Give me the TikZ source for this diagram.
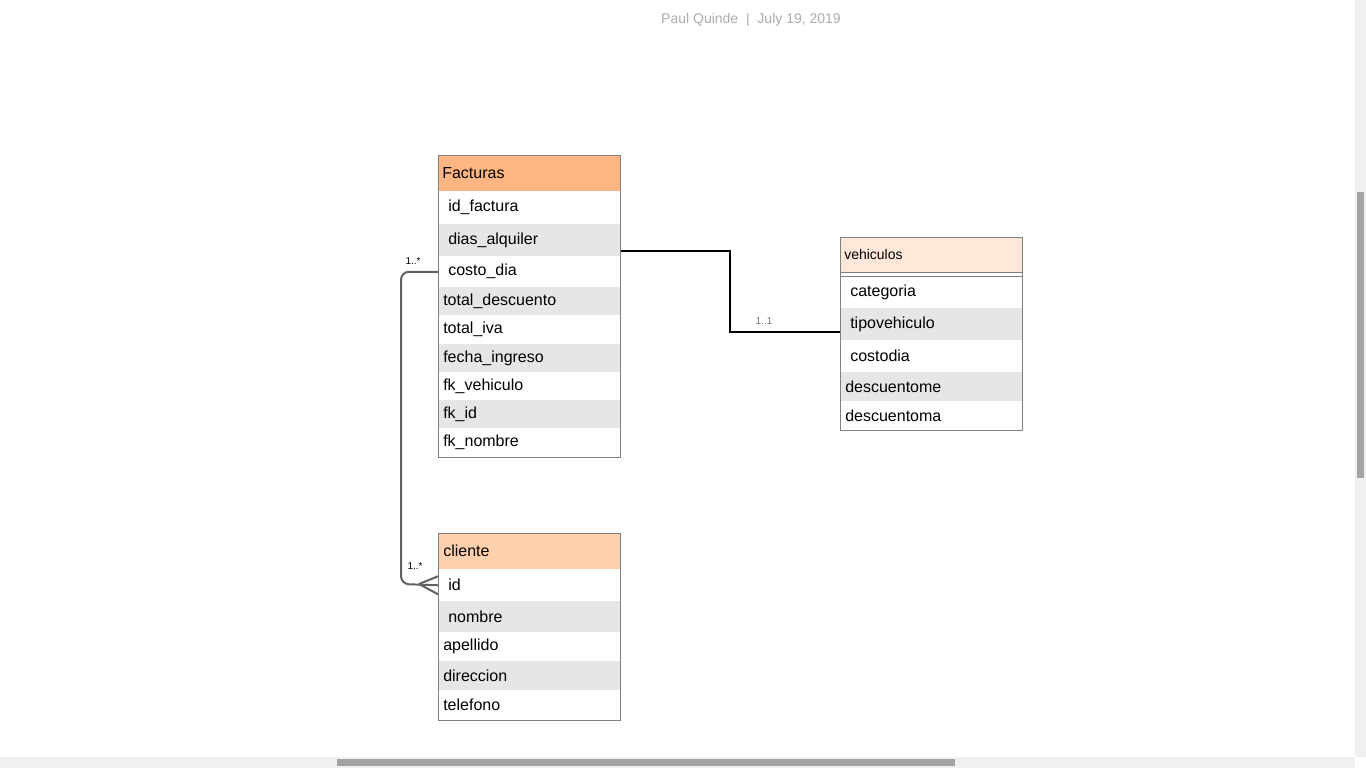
\documentclass[tikz,border=0pt]{standalone}
\usepackage{fontspec}
\setmainfont{Liberation Sans}
\usepackage{xcolor}

\definecolor{rowgray}{HTML}{E6E6E6}
\definecolor{facorange}{HTML}{FFB682}
\definecolor{clipeach}{HTML}{FFD0AE}
\definecolor{vehpeach}{HTML}{FFE8DA}
\definecolor{tblline}{HTML}{808080}
\definecolor{scrolltrack}{HTML}{F0F0F0}
\definecolor{scrollthumb}{HTML}{A3A3A3}

\begin{document}
\begin{tikzpicture}[
	x=0.75pt, y=-0.75pt,
	row/.style={
		anchor=north west,
		minimum width=136.5pt,
		inner ysep=0pt,
		align=left,
		font=\fontsize{12pt}{14pt}\selectfont
	},
	rowa/.style={row, inner xsep=7.5pt, text width=121.5pt},
	rowb/.style={row, inner xsep=3.75pt, text width=129pt},
	tblhead/.style={
		draw=tblline,
		anchor=north west,
		minimum width=136.5pt,
		minimum height=27pt,
		inner xsep=3pt,
		text width=130.5pt,
		align=left,
		fill=#1,
		font=\fontsize{12pt}{14pt}\selectfont
	},
	tblbox/.style={draw=tblline, line width=0.75pt},
	mult/.style={font=\fontsize{7.5pt}{9pt}\selectfont, inner sep=0pt}]

	\useasboundingbox (0,0) rectangle (1366,768);

	% page title
	\node[text=black!33, font=\fontsize{10.5pt}{12pt}\selectfont] (title) at (751,20)
		{Paul Quinde~~|~~July 19, 2019};

	% Facturas
	\node[tblhead=facorange] (fac_head) at (438,155) {Facturas};
	\foreach \n/\t/\y/\h/\c/\s in {
		fac_id/id\_factura/191/33/white/a,
		fac_dias/dias\_alquiler/224/32/rowgray/a,
		fac_costo/costo\_dia/256/31/white/a,
		fac_desc/total\_descuento/287/28/rowgray/b,
		fac_iva/total\_iva/315/29/white/b,
		fac_fecha/fecha\_ingreso/344/28/rowgray/b,
		fac_veh/fk\_vehiculo/372/28/white/b,
		fac_fkid/fk\_id/400/28/rowgray/b,
		fac_fknom/fk\_nombre/428/29/white/b}
		\node[row\s, fill=\c, minimum height=\h*0.75pt] (\n) at (438,\y) {\t};
	\draw[tblbox] (fac_head.north west) rectangle (fac_fknom.south east);

	% vehiculos
	\node[tblhead=vehpeach, minimum height=26.25pt,
		font=\fontsize{10.5pt}{12pt}\selectfont] (veh_head) at (840,237) {vehiculos};
	\foreach \n/\t/\y/\h/\c/\s in {
		veh_cat/categoria/276/32/white/a,
		veh_tipo/tipovehiculo/308/32/rowgray/a,
		veh_costo/costodia/340/32/white/a,
		veh_dme/descuentome/372/29/rowgray/b,
		veh_dma/descuentoma/401/29/white/b}
		\node[row\s, fill=\c, minimum height=\h*0.75pt] (\n) at (840,\y) {\t};
	\draw[tblbox] (veh_head.north west) rectangle (veh_dma.south east);
	\draw[tblbox] (veh_cat.north west) -- (veh_cat.north east);

	% cliente
	\node[tblhead=clipeach, inner xsep=3.75pt, text width=129pt] (cli_head) at (438,533) {cliente};
	\foreach \n/\t/\y/\h/\c/\s in {
		cli_id/id/569/32/white/a,
		cli_nom/nombre/601/31/rowgray/a,
		cli_ape/apellido/632/29/white/b,
		cli_dir/direccion/661/29/rowgray/b,
		cli_tel/telefono/690/30/white/b}
		\node[row\s, fill=\c, minimum height=\h*0.75pt] (\n) at (438,\y) {\t};
	\draw[tblbox] (cli_head.north west) rectangle (cli_tel.south east);

	% Facturas -- vehiculos
	\coordinate (fv_start) at (621,251);
	\coordinate (fv_mid) at (730,290);
	\coordinate (fv_end) at (840,332);
	\draw[line width=1.5pt] (fv_start) -| (fv_mid) |- (fv_end);
	\node[mult, text=black!55] (fv_mult) at (764,321) {1..1};

	% Facturas -- cliente
	\coordinate (fc_bend) at (401,584);
	\coordinate (fc_foot) at (419,584);
	\draw[black!62, line width=1.5pt, rounded corners=6pt]
		(fac_costo.west) -| (fc_bend) -- (cli_id.west);
	\draw[black!62, line width=1.5pt]
		(fc_foot) -- ([yshift=6.75pt]cli_id.west)
		(fc_foot) -- ([yshift=-6.75pt]cli_id.west);
	\node[mult] (fc_mult1) at (413,261) {1..*};
	\node[mult] (fc_mult2) at (415,566) {1..*};

	% scroll bars
	\fill[scrolltrack] (1355,0) rectangle (1366,757);
	\fill[scrollthumb] (1357,192) rectangle (1364,478);
	\fill[scrolltrack] (0,757) rectangle (1355,768);
	\fill[scrollthumb] (337,759) rectangle (955,766);
\end{tikzpicture}
\end{document}
